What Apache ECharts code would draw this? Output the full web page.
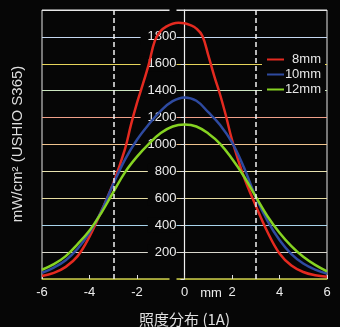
<!DOCTYPE html>
<html>
<head>
<meta charset="utf-8">
<script src="https://cdn.jsdelivr.net/npm/echarts@6/dist/echarts.min.js"></script>
<style>
  html, body { margin: 0; padding: 0; background: #060606; }
  #chart { width: 340px; height: 327px; }
</style>
</head>
<body>
<div id="chart"></div>
<script>
// 照度分布：位置 (mm) ごとの照度 mW/cm2
const redX = [-6, -5.5, -5, -4.5, -4, -3.5, -3, -2.5, -2.25, -2, -1.75, -1.5, -1.25, -1, -0.75,
  -0.5, -0.25, 0, 0.25, 0.5, 0.75, 1, 1.25, 1.5, 1.75, 2, 2.5, 3, 3.5, 4, 4.5, 5, 5.5, 6];
const red8mm = [22, 45, 90, 170, 315, 505, 712, 970, 1150, 1310, 1450, 1600, 1770, 1845, 1878,
  1898, 1905, 1902, 1887, 1862, 1808, 1665, 1510, 1370, 1210, 1035, 760, 545, 348, 190, 100, 52, 28, 17];
const positions = [-6, -5.5, -5, -4.5, -4, -3.5, -3, -2.5, -2, -1.5, -1, -0.5, 0,
  0.5, 1, 1.5, 2, 2.5, 3, 3.5, 4, 4.5, 5, 5.5, 6];
const blue10mm = [45, 85, 140, 225, 345, 504, 706, 890, 1035, 1150, 1250, 1322, 1350,
  1325, 1240, 1145, 1015, 830, 610, 430, 290, 185, 115, 70, 40];
const green12mm = [69, 110, 170, 260, 360, 492, 645, 795, 910, 1005, 1085, 1134, 1148,
  1134, 1082, 1005, 894, 764, 612, 465, 344, 244, 165, 105, 57];
const seriesNames = ["8mm", "10mm", "12mm"];
const dashedAt = [-3, 3];

const zip = (xs, ys) => xs.map((x, i) => [x, ys[i]]);

const chart = echarts.init(document.getElementById("chart"));
const font = "Liberation Sans";

chart.setOption({
  backgroundColor: "#060606",
  animation: false,
  color: ["#e42a20", "#2e4aa0", "#86d322"],
  grid: {
    left: 42,
    right: 13,
    top: 10,
    bottom: 48,
    outerBoundsMode: "none",
    show: true,
    borderColor: "#e6e6e6",
    borderWidth: 1,
    backgroundColor: "transparent"
  },
  legend: {
    data: seriesNames,
    orient: "vertical",
    left: 262,
    top: 47,
    width: 64,
    padding: [6, 4, 6, 5],
    backgroundColor: "#060606",
    itemGap: 2,
    itemWidth: 17,
    itemHeight: 2,
    icon: "rect",
    formatter: name => "{a|" + name + "}",
    textStyle: {
      color: "#e8e8e8",
      fontFamily: font,
      fontSize: 13,
      rich: { a: { width: 32, align: "right", fontSize: 13, lineHeight: 14, color: "#e8e8e8", fontFamily: font } }
    }
  },
  xAxis: {
    type: "value",
    min: -6,
    max: 6,
    interval: 2,
    name: "照度分布 (1A)",
    nameLocation: "middle",
    nameGap: 33,
    nameTextStyle: { color: "#e0e0e0", fontSize: 15, fontFamily: "Noto Sans CJK JP" },
    axisLine: { onZero: false, lineStyle: { color: "#a6a830", width: 1.5 } },
    axisTick: { inside: true, length: 4, lineStyle: { color: "#e0e0e0" } },
    axisLabel: { color: "#ececec", fontSize: 13, fontFamily: font, margin: 7 },
    splitLine: { show: false }
  },
  yAxis: {
    type: "value",
    min: 0,
    max: 2000,
    interval: 200,
    position: "left",
    offset: -142.5,
    axisLine: { show: true, onZero: false, lineStyle: { color: "#f0f0f0", width: 1.2 } },
    axisTick: { length: 4, lineStyle: { color: "#e0e0e0" } },
    axisLabel: {
      color: "#ececec",
      fontSize: 13,
      fontFamily: font,
      margin: 8,
      backgroundColor: "#060606",
      padding: [1, 0, 1, 7],
      formatter: v => (v === 0 || v === 2000 ? "" : String(v))
    },
    splitLine: {
      show: true,
      lineStyle: {
        width: 1.2,
        color: ["#a6a830", "#d8d6cc", "#a8d4ec", "#e6dca0", "#e8e2b0", "#f0c48e",
          "#f0a08a", "#cce6c0", "#e6d45a", "#c4d6f0", "#e6e6e6"]
      }
    }
  },
  graphic: [
    {
      type: "text",
      x: 18,
      y: 144,
      rotation: Math.PI / 2,
      style: {
        text: "mW/cm² (USHIO S365)",
        fill: "#dedede",
        font: "15px " + font,
        textAlign: "center",
        textVerticalAlign: "middle"
      }
    },
    {
      type: "text",
      x: 211,
      y: 293,
      style: {
        text: "mm",
        fill: "#ececec",
        font: "13px " + font,
        textAlign: "center",
        textVerticalAlign: "middle"
      }
    }
  ],
  series: [
    {
      name: seriesNames[0],
      type: "line",
      data: zip(redX, red8mm),
      smooth: 0.4,
      showSymbol: false,
      lineStyle: { width: 2.5 },
      markLine: {
        silent: true,
        symbol: "none",
        label: { show: false },
        lineStyle: { color: "#f2f2f2", type: [5, 3], width: 1.5 },
        data: dashedAt.map(x => ({ xAxis: x }))
      }
    },
    {
      name: seriesNames[1],
      type: "line",
      data: zip(positions, blue10mm),
      smooth: 0.4,
      showSymbol: false,
      lineStyle: { width: 2.5 }
    },
    {
      name: seriesNames[2],
      type: "line",
      data: zip(positions, green12mm),
      smooth: 0.4,
      showSymbol: false,
      lineStyle: { width: 2.5 }
    }
  ]
});
</script>
</body>
</html>
